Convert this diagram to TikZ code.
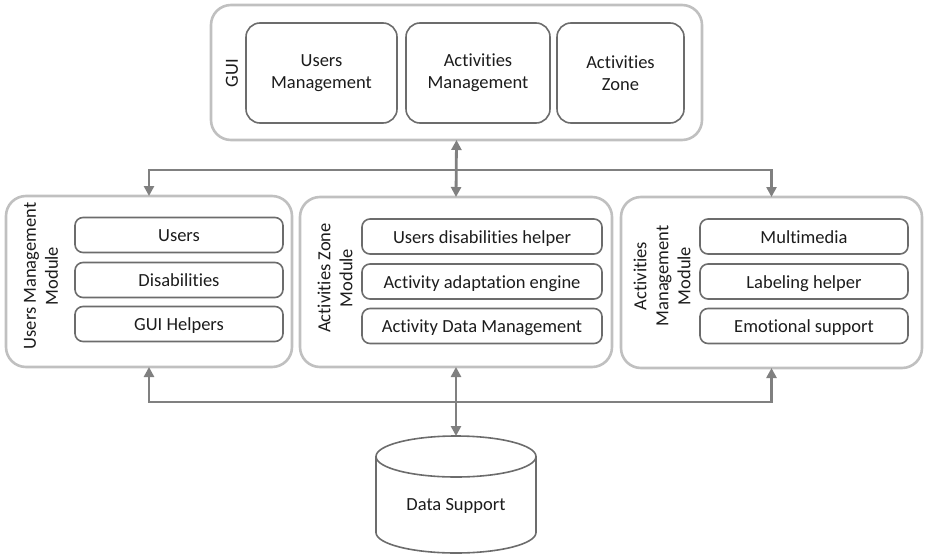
\documentclass[tikz,border=0pt]{standalone}
\usepackage{fontspec}
\setmainfont{Carlito}[Ligatures={NoCommon,NoRare,NoContextual}]
\usetikzlibrary{arrows.meta}
\definecolor{outerc}{RGB}{192,192,192}
\definecolor{innerc}{RGB}{108,108,108}
\definecolor{arrc}{RGB}{128,128,128}
\definecolor{txt}{RGB}{28,28,28}
\begin{document}
\begin{tikzpicture}[x=1pt,y=-1pt,
  every node/.style={outer sep=0pt, inner sep=0pt, text=txt, font=\fontsize{18.5}{22}\selectfont},
  outer/.style={draw=outerc, line width=2.6pt, rounded corners=20pt},
  gbox/.style={draw=innerc, line width=1.6pt, rounded corners=14pt, align=center, minimum height=100pt},
  ibox/.style={draw=innerc, line width=1.6pt, rounded corners=8pt, minimum height=35pt, text height=13pt, text depth=0pt},
  lbl/.style={rotate=90, align=center},
  cyl/.style={draw=innerc, line width=1.6pt},
  conn/.style={draw=arrc, line width=2.8pt, {Triangle[length=10pt,width=10pt]}-{Triangle[length=10pt,width=10pt]}},
]
\useasboundingbox (0,0) rectangle (925,554);

% GUI
\node[outer, minimum width=491pt, minimum height=135pt] (gui) at (456.5,72.5) {};
\node[lbl] (guilbl) at (232,73) {GUI};
\node[gbox, minimum width=151pt] (um) at (321.5,73) {Users\\Management};
\node[gbox, minimum width=144pt] (am) at (478,73) {Activities\\Management};
\node[gbox, minimum width=127pt] (az) at (620.5,73) {Activities\\Zone};

% Modules
\node[outer, minimum width=286pt, minimum height=171pt] (umm) at (149,281.5) {};
\node[outer, minimum width=312pt, minimum height=170pt] (azm) at (456,282) {};
\node[outer, minimum width=301pt, minimum height=171pt] (amm) at (771.5,282.5) {};

\node[lbl] (ummlbl) at (41,276) {Users Management\\Module};
\node[lbl] (azmlbl) at (335,278) {Activities Zone\\Module};
\node[lbl] (ammlbl) at (662,276) {Activities\\Management\\Module};

\node[ibox, minimum width=208pt] (u1) at (179,235) {Users};
\node[ibox, minimum width=208pt] (u2) at (179,280) {Disabilities};
\node[ibox, minimum width=208pt] (u3) at (179,324) {GUI Helpers};

\node[ibox, minimum width=240pt] (z1) at (482,236.5) {Users disabilities helper};
\node[ibox, minimum width=240pt] (z2) at (482,281.5) {Activity adaptation engine};
\node[ibox, minimum width=240pt] (z3) at (482,326) {Activity Data Management};

\node[ibox, minimum width=208pt] (a1) at (804,236.5) {Multimedia};
\node[ibox, minimum width=208pt] (a2) at (804,281.5) {Labeling helper};
\node[ibox, minimum width=208pt] (a3) at (804,326) {Emotional support};

% Data support (cylinder)
\coordinate (dstop) at (456,436);
\draw[cyl] (456,456.5) ellipse [x radius=80, y radius=20.5];
\draw[cyl] (376,456.5) -- (376,532.5) arc[start angle=180, end angle=0, x radius=80, y radius=20.5] -- (536,456.5);
\node (ds) at (456,506) {Data Support};

% connectors
\coordinate (top) at (456,170);
\coordinate (bot) at (456,402);
\draw[conn] (gui.south) -- (azm.north);
\draw[conn] (umm.north) -- (umm.north |- top) -- (amm.north |- top) -- (amm.north);
\draw[conn] (umm.south) -- (umm.south |- bot) -- (amm.south |- bot) -- (amm.south);
\draw[conn] (azm.south) -- (dstop);
\end{tikzpicture}
\end{document}
